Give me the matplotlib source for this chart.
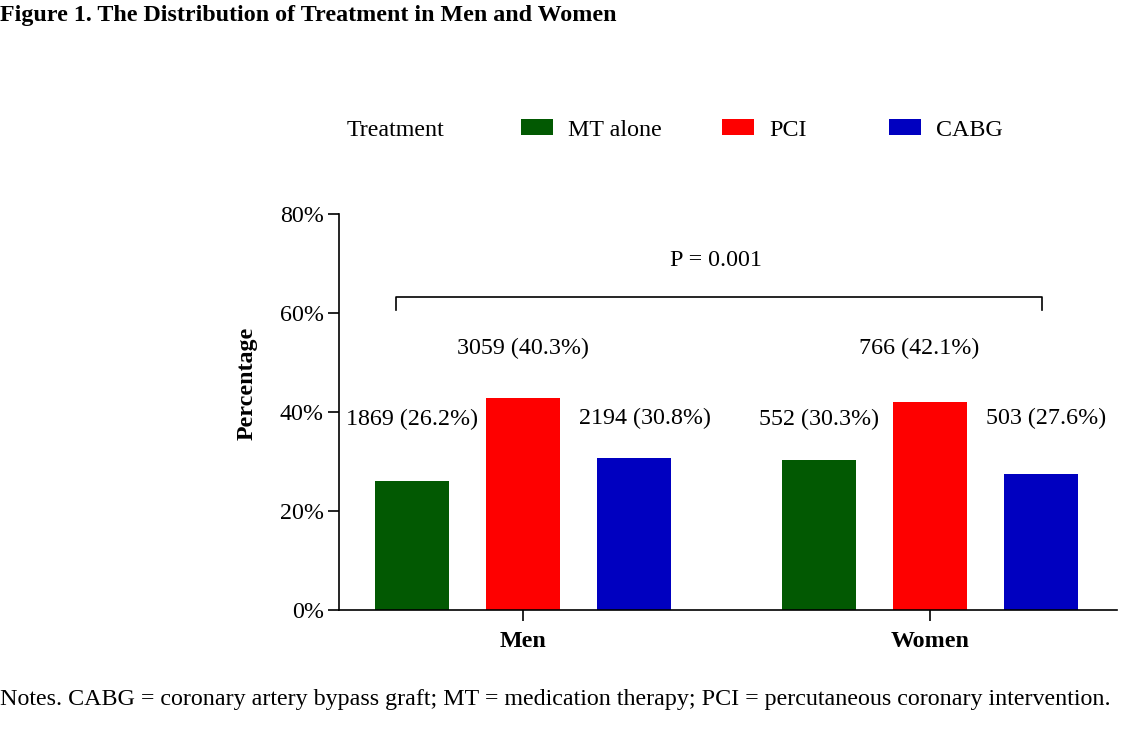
import matplotlib.pyplot as plt
from matplotlib.patches import Patch
import numpy as np

plt.rcParams['font.family'] = ['Liberation Serif', 'DejaVu Serif']

groups = ["Men", "Women"]
treatments = ["MT alone", "PCI", "CABG"]
colors = ["#025902", "#fe0000", "#0000c0"]
# bar heights as drawn in the figure (%)
heights = {
    "MT alone": [26.1, 30.3],
    "PCI": [42.8, 42.0],
    "CABG": [30.7, 27.5],
}
labels = {
    "MT alone": ["1869 (26.2%)", "552 (30.3%)"],
    "PCI": ["3059 (40.3%)", "766 (42.1%)"],
    "CABG": ["2194 (30.8%)", "503 (27.6%)"],
}
y_ticks = [0, 20, 40, 60, 80]
p_text = "P = 0.001"

FS = 17.3

fig = plt.figure(figsize=(11.46, 7.36), dpi=100)
ax = fig.add_axes([0.2958, 0.1712, 0.6789, 0.538])

x = np.arange(len(groups))
width = 0.182
offsets = [-0.273, 0.0, 0.273]
label_y = [38.4, 52.8, 38.6]
label_dx = [[0.0, 0.0], [0.0, -0.027], [0.027, 0.011]]

for i, t in enumerate(treatments):
    ax.bar(x + offsets[i], heights[t], width, color=colors[i], label=t)
    for j in range(len(groups)):
        ax.text(x[j] + offsets[i] + label_dx[i][j], label_y[i], labels[t][j],
                ha="center", va="center", fontsize=FS)

# significance bracket
bx0, bx1, by, bdrop = -0.312, 1.275, 63.3, 2.6
ax.plot([bx0, bx0, bx1, bx1], [by - bdrop, by, by, by - bdrop], color="black", lw=1.2,
        clip_on=False)
ax.text((bx0 + bx1) / 2 - 0.008, 70.6, p_text, ha="center", va="center", fontsize=FS)

ax.set_xlim(-0.452, 1.459)
ax.set_ylim(0, 80)
ax.set_yticks(y_ticks)
ax.set_yticklabels([f"{v}%" for v in y_ticks], fontsize=FS)
ax.set_xticks(x)
ax.set_xticklabels(groups, fontsize=FS, fontweight="bold")
ax.tick_params(axis="both", length=8, width=1.2, direction="out")
ax.tick_params(axis="y", pad=3)
ax.tick_params(axis="x", pad=7)
ax.spines["top"].set_visible(False)
ax.spines["right"].set_visible(False)
ax.spines["left"].set_linewidth(1.2)
ax.spines["bottom"].set_linewidth(1.2)
ax.set_ylabel("Percentage", fontsize=FS, fontweight="bold")
ax.yaxis.set_label_coords(-0.105, 0.573)

# legend: one entry per slot so the uneven spacing of the original is kept
legend_x = [521, 722, 889]
legend_y = 1 - 130 / 736
for i, t in enumerate(treatments):
    fig.legend([Patch(facecolor=colors[i])], [t], loc="center left",
               bbox_to_anchor=(legend_x[i] / 1146, legend_y),
               frameon=False, fontsize=FS, borderpad=0, handlelength=1.33,
               handleheight=0.62, handletextpad=0.62, borderaxespad=0)
fig.text(347 / 1146, 1 - 131 / 736, "Treatment", ha="left", va="center", fontsize=FS)

fig.text(0.0, 1 - 15 / 736, "Figure 1. The Distribution of Treatment in Men and Women",
         ha="left", va="center", fontsize=FS, fontweight="bold")
fig.text(0.0, 1 - 700 / 736,
         "Notes. CABG = coronary artery bypass graft; MT = medication therapy; "
         "PCI = percutaneous coronary intervention.",
         ha="left", va="center", fontsize=FS)

fig.savefig("out.png", dpi=100)
